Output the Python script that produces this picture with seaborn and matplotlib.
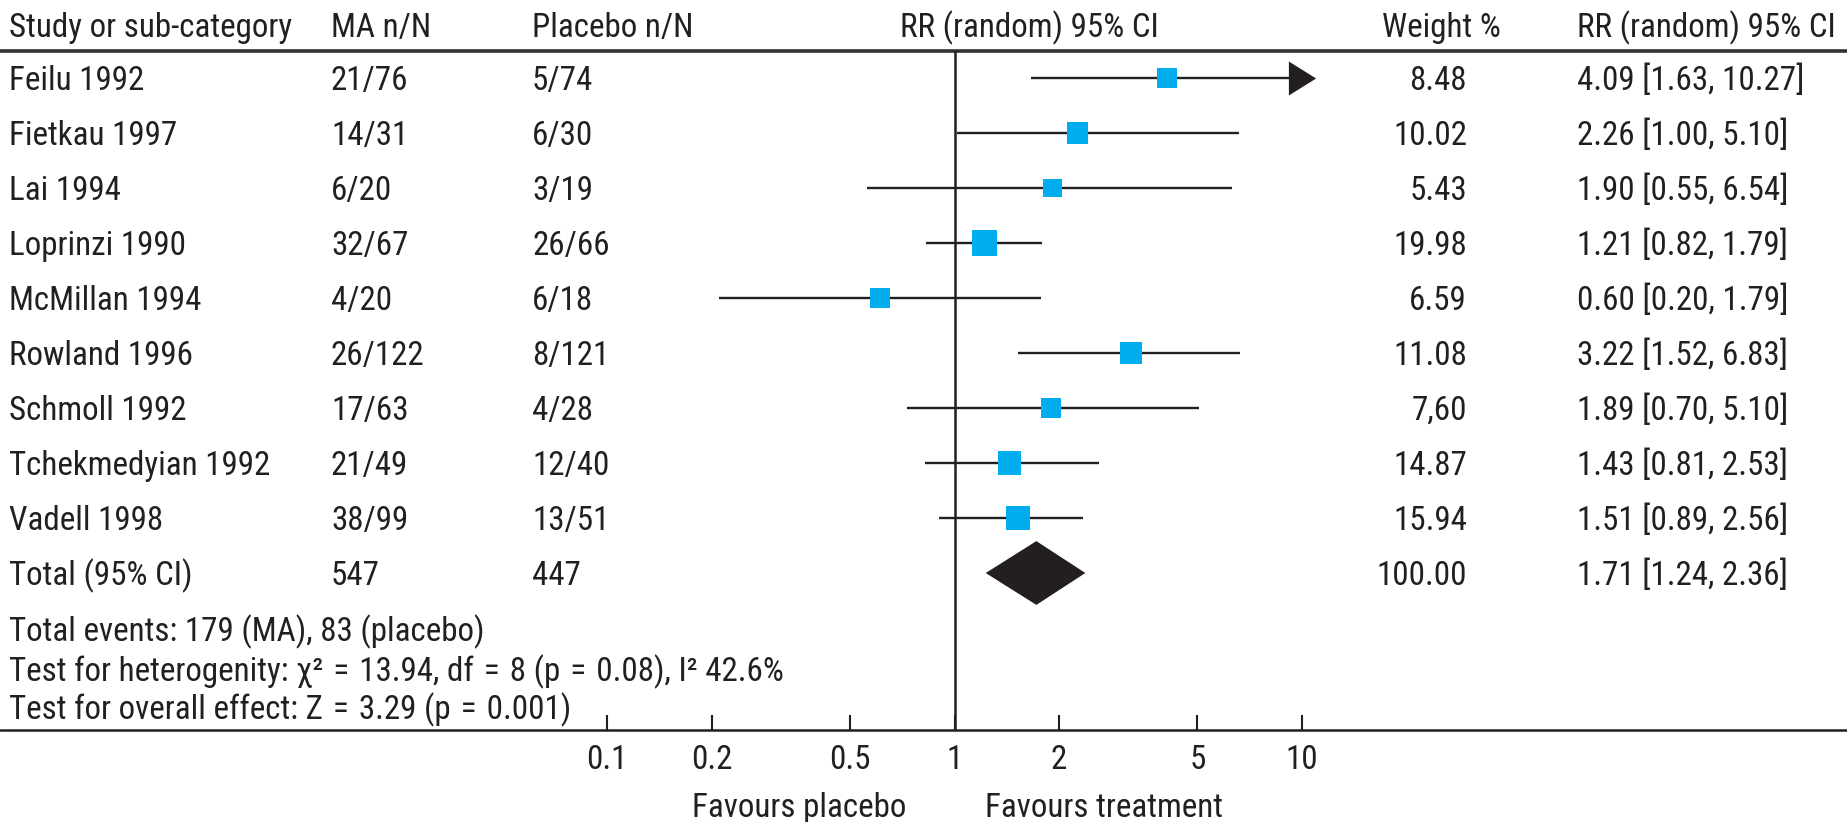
"""
Forest plot: megestrol acetate vs placebo (RR random effects, 95% CI).
"""

import numpy as np
import matplotlib
matplotlib.use("Agg")
import matplotlib.pyplot as plt
import matplotlib.transforms as mtransforms
import seaborn as sns

# ---- data ----
studies = ["Feilu 1992", "Fietkau 1997", "Lai 1994", "Loprinzi 1990", "McMillan 1994",
           "Rowland 1996", "Schmoll 1992", "Tchekmedyian 1992", "Vadell 1998"]
ma_nN = ["21/76", "14/31", "6/20", "32/67", "4/20", "26/122", "17/63", "21/49", "38/99"]
placebo_nN = ["5/74", "6/30", "3/19", "26/66", "6/18", "8/121", "4/28", "12/40", "13/51"]
weights = [8.48, 10.02, 5.43, 19.98, 6.59, 11.08, 7.60, 14.87, 15.94]
weight_labels = ["8.48", "10.02", "5.43", "19.98", "6.59", "11.08", "7,60", "14.87", "15.94"]
rr_labels = ["4.09 [1.63, 10.27]", "2.26 [1.00, 5.10]", "1.90 [0.55, 6.54]",
             "1.21 [0.82, 1.79]", "0.60 [0.20, 1.79]", "3.22 [1.52, 6.83]",
             "1.89 [0.70, 5.10]", "1.43 [0.81, 2.53]", "1.51 [0.89, 2.56]"]
# values as drawn in the plot
rr = [4.09, 2.26, 1.91, 1.22, 0.61, 3.22, 1.90, 1.44, 1.52]
ci_low = [1.66, 1.02, 0.56, 0.83, 0.21, 1.52, 0.73, 0.82, 0.90]
ci_high = [10.27, 6.60, 6.30, 1.78, 1.77, 6.65, 5.04, 2.60, 2.34]

total_label = "Total (95% CI)"
total_ma, total_placebo = "547", "447"
total_weight = "100.00"
total_rr_label = "1.71 [1.24, 2.36]"
total_rr, total_low, total_high = 1.72, 1.23, 2.38

tick_values = [0.1, 0.2, 0.5, 1, 2, 5, 10]
tick_labels = ["0.1", "0.2", "0.5", "1", "2", "5", "10"]
headers = ["Study or sub-category", "MA n/N", "Placebo n/N", "RR (random) 95% CI",
           "Weight %", "RR (random) 95% CI"]
EQ = "\u2004=\u2004"
footnotes = ["Total events: 179 (MA), 83 (placebo)",
             f"Test for heterogenity: \u03c7\u00b2{EQ}13.94, df{EQ}8 (p{EQ}0.08), I\u00b2 42.6%",
             f"Test for overall effect: Z{EQ}3.29 (p{EQ}0.001)"]
favours = ["Favours placebo", "Favours treatment"]

# ---- style ----
INK = "#231F20"
BLUE = "#00AEEF"
FS = 23.8
W, H = 1847, 822

sns.set_theme(style="white")
plt.rcParams["font.family"] = ["Roboto Condensed", "DejaVu Sans"]
plt.rcParams["text.color"] = INK

fig = plt.figure(figsize=(W / 100, H / 100), dpi=100)

# background axes in pixel units for the table text
bg = fig.add_axes([0, 0, 1, 1])
bg.set_xlim(0, W)
bg.set_ylim(H, 0)
bg.axis("off")

# forest axes (log scale)
PX_01, PX_10 = 607, 1302
dec = (PX_10 - PX_01) / 2
left_px, right_px, top_px, base_px = 560, 1400, 51, 730
row0_px, row_step = 78, 55
ax = fig.add_axes([left_px / W, (H - base_px) / H, (right_px - left_px) / W,
                   (base_px - top_px) / H])
ax.set_xscale("log")
ax.set_xlim(10 ** (-1 + (left_px - PX_01) / dec), 10 ** (1 + (right_px - PX_10) / dec))
ax.set_ylim((base_px - row0_px) / row_step, (top_px - row0_px) / row_step)
ax.patch.set_alpha(0)
for s in ax.spines.values():
    s.set_visible(False)
ax.set_yticks([])
ax.set_xticks(tick_values)
ax.set_xticklabels(tick_labels, fontsize=FS)
ax.minorticks_off()
ax.tick_params(axis="x", bottom=True, direction="in", length=11, width=1.5, color=INK,
               pad=10, labelcolor=INK)

rows = np.arange(len(studies))
total_row = len(studies)

# reference line at RR = 1
ax.axvline(1, color=INK, lw=1.8, zorder=1)

# confidence intervals (clipped at 10 with an arrow)
hi_clip = np.minimum(ci_high, 10)
ax.hlines(rows, ci_low, hi_clip, color=INK, lw=1.7, zorder=2)
over = np.array(ci_high) > 10
arrow = [(-0.8, -1), (0.8, 0), (-0.8, 1)]
ax.scatter(hi_clip[over], rows[over], marker=arrow, s=600, color=INK, lw=0, zorder=3)

# study estimates
sns.scatterplot(x=rr, y=rows, size=weights, sizes=(185, 340), size_norm=(5.43, 19.98),
                marker="s", color=BLUE, edgecolor="none", linewidth=0, legend=False,
                ax=ax, zorder=4)

# pooled estimate
dh = 0.58
ax.fill([total_low, total_rr, total_high, total_rr],
        [total_row, total_row - dh, total_row, total_row + dh], color=INK, lw=0, zorder=4)

# ---- table text (baseline half a cap height below the row centre) ----
tr = mtransforms.offset_copy(
    mtransforms.blended_transform_factory(bg.transData, ax.transData),
    fig=fig, y=-12, units="dots")
col_study, col_ma, col_pl, col_w, col_rr = 9, 331, 532, 1467, 1577
kw = dict(transform=tr, fontsize=FS, va="baseline")
for i, name in enumerate(studies):
    bg.text(col_study, i, name, **kw)
    bg.text(col_ma, i, ma_nN[i], **kw)
    bg.text(col_pl, i, placebo_nN[i], **kw)
    bg.text(col_w, i, weight_labels[i], ha="right", **kw)
    bg.text(col_rr, i, rr_labels[i], **kw)
bg.text(col_study, total_row, total_label, **kw)
bg.text(col_ma, total_row, total_ma, **kw)
bg.text(col_pl, total_row, total_placebo, **kw)
bg.text(col_w, total_row, total_weight, ha="right", **kw)
bg.text(col_rr, total_row, total_rr_label, **kw)

# headers
head_x = [col_study, col_ma, col_pl, 900, 1382, col_rr]
for x, h in zip(head_x, headers):
    bg.text(x, 37, h, fontsize=FS, va="baseline")

# rules
bg.axhline(top_px, color="#333333", lw=2.6)
bg.axhline(base_px, color=INK, lw=1.8)

# footnotes
for y, t in zip([641, 681, 719], footnotes):
    bg.text(col_study, y, t, fontsize=FS, va="baseline")

bg.text(906, 808, favours[0], fontsize=FS, va="center", ha="right")
bg.text(985, 808, favours[1], fontsize=FS, va="center", ha="left")

fig.savefig("out.png", dpi=100)
plt.close(fig)
